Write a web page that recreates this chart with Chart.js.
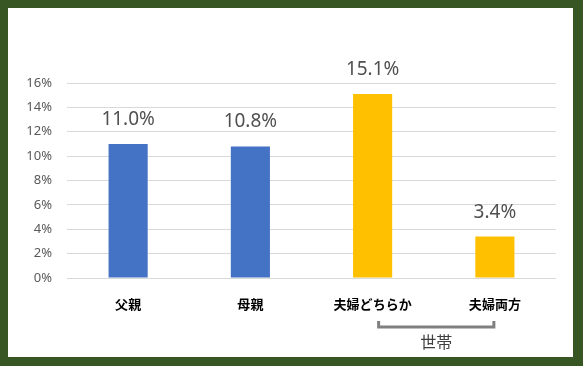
<!DOCTYPE html>
<html>
<head>
<meta charset="utf-8">
<script src="https://cdn.jsdelivr.net/npm/chart.js@4/dist/chart.umd.min.js"></script>
<style>
  html, body { margin: 0; padding: 0; background: #375623; }
  canvas { display: block; }
</style>
</head>
<body>
<canvas id="chart" width="583" height="366"></canvas>
<script>
// data
const categories = ["父親", "母親", "夫婦どちらか", "夫婦両方"];
const values = [11.0, 10.8, 15.1, 3.4];
const barColors = ["#4472C4", "#4472C4", "#FFC000", "#FFC000"];
const yTicks = [0, 2, 4, 6, 8, 10, 12, 14, 16];
const groupLabel = "世帯";

const frame = {
  id: "frame",
  beforeDraw(chart) {
    const c = chart.ctx;
    c.save();
    c.fillStyle = "#375623";
    c.fillRect(0, 0, chart.width, chart.height);
    c.fillStyle = "#ffffff";
    c.fillRect(8, 8, 565, 349);
    c.restore();
  }
};

const barLabels = {
  id: "barLabels",
  afterDatasetsDraw(chart) {
    const c = chart.ctx;
    const meta = chart.getDatasetMeta(0);
    c.save();
    c.font = "19px 'Noto Sans'";
    c.fillStyle = "#505050";
    c.textAlign = "center";
    c.textBaseline = "alphabetic";
    meta.data.forEach((bar, i) => {
      c.fillText(values[i].toFixed(1) + "%", bar.x, bar.y - 19);
    });
    c.restore();
  }
};

const bracket = {
  id: "bracket",
  afterDraw(chart) {
    const c = chart.ctx;
    const x = chart.scales.x;
    const x1 = x.getPixelForValue(2) + 6;
    const x2 = x.getPixelForValue(3) - 1;
    c.save();
    c.strokeStyle = "#808080";
    c.lineWidth = 3;
    c.beginPath();
    c.moveTo(x1, 321);
    c.lineTo(x1, 327);
    c.lineTo(x2, 327);
    c.lineTo(x2, 321);
    c.stroke();
    c.font = "16px 'Noto Sans CJK JP'";
    c.fillStyle = "#404040";
    c.textAlign = "center";
    c.textBaseline = "middle";
    c.fillText(groupLabel, (x1 + x2) / 2, 342);
    c.restore();
  }
};

new Chart(document.getElementById("chart"), {
  type: "bar",
  data: {
    labels: categories,
    datasets: [{
      data: values,
      backgroundColor: barColors,
      barPercentage: 0.32,
      categoryPercentage: 1
    }]
  },
  options: {
    responsive: false,
    animation: false,
    layout: { padding: { left: 0, right: 27, top: 83, bottom: 0 } },
    plugins: {
      legend: { display: false },
      tooltip: { enabled: false }
    },
    scales: {
      x: {
        grid: { display: false },
        border: { display: false },
        ticks: {
          color: "#000000",
          padding: 10,
          font: { family: "'Noto Sans CJK JP'", size: 13, weight: "bold" }
        },
        afterFit(scale) { scale.height = 88; }
      },
      y: {
        min: 0,
        max: 16,
        afterBuildTicks(scale) { scale.ticks = yTicks.map(v => ({ value: v })); },
        grid: { color: "#d9d9d9", lineWidth: 1, drawTicks: false },
        border: { display: false },
        ticks: {
          color: "#595959",
          padding: 15,
          font: { family: "'Noto Sans'", size: 13 },
          callback: v => v + "%"
        },
        afterFit(scale) { scale.width = 67; }
      }
    }
  },
  plugins: [frame, barLabels, bracket]
});
</script>
</body>
</html>
